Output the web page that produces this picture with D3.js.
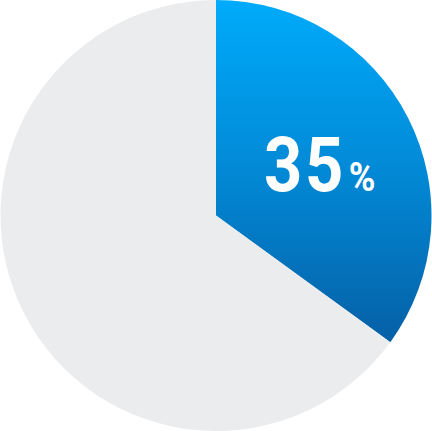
<!DOCTYPE html>
<html>
<head>
<meta charset="utf-8">
<script src="https://cdn.jsdelivr.net/npm/d3@7"></script>
<style>
  html, body { margin: 0; padding: 0; background: #fff; }
</style>
</head>
<body>
<div id="chart"></div>
<script>
// Pie: share highlighted vs rest
const categories = ["highlight", "rest"];
const values = [35, 65];
const labelText = "35";

const width = 432, height = 431;
const cx = 216, cy = 215.5, radius = 215.5;

const svg = d3.select("#chart").append("svg")
  .attr("width", width).attr("height", height);

// gradient in the pie group's coordinates (origin at centre)
const defs = svg.append("defs");
const grad = defs.append("linearGradient").attr("id", "blueGrad")
  .attr("gradientUnits", "userSpaceOnUse")
  .attr("x1", 0).attr("y1", -cy).attr("x2", 0).attr("y2", 342 - cy);
grad.append("stop").attr("offset", "0%").attr("stop-color", "#00abfb");
grad.append("stop").attr("offset", "50%").attr("stop-color", "#0289d6");
grad.append("stop").attr("offset", "100%").attr("stop-color", "#0560a6");

const color = d3.scaleOrdinal().domain(categories).range(["url(#blueGrad)", "#ebeced"]);

const pie = d3.pie().sort(null).value(d => d);
const arc = d3.arc().innerRadius(0).outerRadius(radius);

const g = svg.append("g").attr("transform", `translate(${cx},${cy})`);
g.selectAll("path").data(pie(values)).join("path")
  .attr("d", arc)
  .attr("fill", (d, i) => color(categories[i]));

// label inside the highlighted slice
const lbl = svg.append("text").attr("transform", "translate(264,191) scale(0.88,1)")
  .attr("fill", "#fff").attr("font-family", "Roboto, 'Liberation Sans Narrow', sans-serif")
  .attr("font-weight", 700);
lbl.append("tspan").attr("font-size", 76).attr("letter-spacing", 3).text(labelText);
lbl.append("tspan").attr("font-size", 41).attr("dx", 3).text("%");
</script>
</body>
</html>
